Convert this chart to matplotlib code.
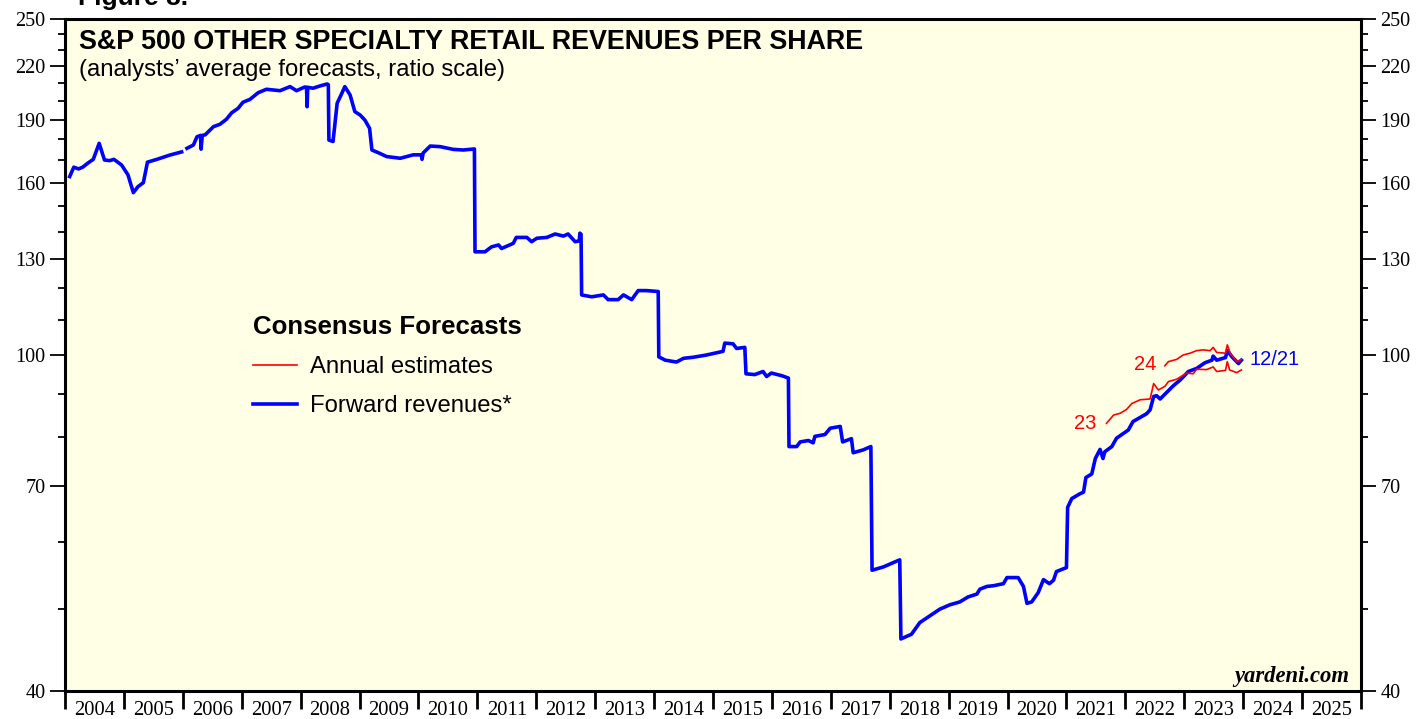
import numpy as np
import matplotlib
matplotlib.use("Agg")
import matplotlib.pyplot as plt
from matplotlib.ticker import FixedLocator, NullFormatter, FixedFormatter
from matplotlib.lines import Line2D

# ---------------- data ----------------
fwd_years = [
    2004.08, 2004.15, 2004.23, 2004.30, 2004.40, 2004.48, 2004.58, 2004.67, 2004.76, 2004.83,
    2004.96, 2005.07, 2005.16, 2005.24, 2005.33, 2005.40, 2005.56, 2005.78, 2005.98, 2006.02,
    2006.07, 2006.18, 2006.24, 2006.30, 2006.31, 2006.33, 2006.38, 2006.52, 2006.63, 2006.74,
    2006.83, 2006.94, 2007.02, 2007.14, 2007.28, 2007.42, 2007.65, 2007.82, 2007.93, 2008.07,
    2008.10, 2008.11, 2008.12, 2008.21, 2008.33, 2008.45, 2008.47, 2008.48, 2008.55, 2008.62,
    2008.70, 2008.75, 2008.84, 2008.92, 2009.01, 2009.09, 2009.17, 2009.21, 2009.32, 2009.46,
    2009.69, 2009.91, 2010.05, 2010.06, 2010.08, 2010.20, 2010.37, 2010.59, 2010.76, 2010.95,
    2010.96, 2011.13, 2011.24, 2011.36, 2011.41, 2011.61, 2011.66, 2011.84, 2011.92, 2012.01,
    2012.18, 2012.32, 2012.46, 2012.54, 2012.66, 2012.73, 2012.74, 2012.76, 2012.77, 2012.94,
    2013.14, 2013.22, 2013.39, 2013.48, 2013.62, 2013.73, 2013.87, 2014.07, 2014.08, 2014.19,
    2014.38, 2014.50, 2014.67, 2014.89, 2015.06, 2015.17, 2015.20, 2015.34, 2015.40, 2015.54,
    2015.56, 2015.71, 2015.85, 2015.91, 2015.99, 2016.17, 2016.28, 2016.29, 2016.42, 2016.48,
    2016.62, 2016.70, 2016.73, 2016.90, 2016.99, 2017.16, 2017.20, 2017.35, 2017.38, 2017.55,
    2017.68, 2017.70, 2017.89, 2018.17, 2018.19, 2018.37, 2018.51, 2018.68, 2018.85, 2019.02,
    2019.19, 2019.33, 2019.48, 2019.53, 2019.65, 2019.76, 2019.93, 2019.99, 2020.18, 2020.27,
    2020.33, 2020.41, 2020.52, 2020.61, 2020.71, 2020.78, 2020.83, 2021.00, 2021.02, 2021.09,
    2021.23, 2021.29, 2021.33, 2021.43, 2021.49, 2021.57, 2021.62, 2021.65, 2021.77, 2021.85,
    2022.05, 2022.13, 2022.36, 2022.42, 2022.48, 2022.53, 2022.59, 2022.70, 2022.81, 2022.93,
    2023.07, 2023.21, 2023.35, 2023.47, 2023.49, 2023.55, 2023.70, 2023.73, 2023.81, 2023.92,
    2023.97,
]
fwd_values = [
    162.7, 166.9, 166.1, 166.9, 169.0, 170.5, 178.1, 170.2, 169.9, 170.5,
    167.9, 163.4, 155.7, 158.3, 160.0, 169.2, 170.5, 172.5, 174.0, np.nan,
    175.7, 177.3, 181.3, 182.0, 175.3, 182.0, 182.3, 186.4, 187.6, 190.2,
    193.6, 196.0, 199.2, 200.8, 204.5, 206.4, 205.6, 207.9, 205.6, 207.7,
    207.5, 196.8, 207.5, 207.0, 208.3, 209.4, 209.0, 179.7, 179.0, 198.7,
    204.2, 207.9, 203.2, 194.2, 192.4, 189.8, 185.6, 174.9, 173.6, 171.8,
    171.0, 172.6, 172.6, 170.5, 173.5, 176.8, 176.5, 175.2, 174.9, 175.4,
    132.5, 132.5, 134.3, 135.0, 133.7, 135.6, 137.8, 137.8, 136.2, 137.5,
    137.8, 139.1, 138.3, 139.1, 136.2, 136.5, 139.4, 139.0, 117.8, 117.2,
    117.8, 116.3, 116.3, 117.8, 116.3, 119.2, 119.2, 118.9, 99.5, 98.6,
    98.1, 99.1, 99.4, 100.0, 100.6, 101.0, 103.3, 103.1, 101.8, 102.1,
    95.0, 94.8, 95.6, 94.3, 95.2, 94.5, 93.9, 77.9, 77.9, 78.9,
    79.2, 78.7, 80.1, 80.5, 81.9, 82.3, 78.9, 79.6, 76.6, 77.2,
    77.9, 55.6, 56.1, 57.2, 46.1, 46.7, 48.2, 49.1, 50.0, 50.6,
    51.0, 51.7, 52.1, 52.8, 53.2, 53.3, 53.6, 54.5, 54.5, 53.2,
    50.8, 51.0, 52.3, 54.2, 53.6, 54.1, 55.4, 56.0, 66.0, 67.6,
    68.5, 68.8, 71.6, 72.3, 75.4, 77.3, 75.4, 76.8, 77.9, 79.7,
    81.5, 83.4, 85.2, 86.1, 89.3, 89.5, 88.7, 90.3, 91.9, 93.4,
    95.6, 96.4, 97.9, 98.6, 99.7, 98.6, 99.3, 101.2, 99.5, 97.7,
    98.6,
]

est23_years = [2021.68, 2021.80, 2021.91, 2022.02, 2022.11, 2022.25, 2022.42, 2022.48, 2022.56,
               2022.67, 2022.73, 2022.87, 2023.04, 2023.15, 2023.21, 2023.38, 2023.49, 2023.55,
               2023.70, 2023.73, 2023.77, 2023.89, 2023.97]
est23_values = [83.0, 84.9, 85.3, 86.2, 87.6, 88.5, 88.7, 92.5, 90.9,
                91.8, 93.0, 93.6, 95.2, 95.0, 96.2, 96.1, 96.8, 95.6,
                95.9, 98.2, 96.0, 95.3, 96.0]

est24_years = [2022.67, 2022.73, 2022.87, 2022.98, 2023.10, 2023.21, 2023.32, 2023.44, 2023.49,
               2023.55, 2023.70, 2023.73, 2023.78, 2023.89, 2023.97]
est24_values = [97.1, 98.2, 98.8, 100.0, 100.5, 101.2, 101.4, 101.2, 102.1,
                100.7, 100.5, 102.8, 100.5, 98.2, 98.8]

y_major = [40, 70, 100, 130, 160, 190, 220, 250]
y_minor = [50, 60, 80, 90, 110, 120, 140, 150, 170, 180, 200, 210, 230, 240]
year_labels = [str(y) for y in range(2004, 2026)]

# ---------------- figure ----------------
SANS = ["Liberation Sans", "DejaVu Sans"]
SERIF = ["Liberation Serif", "DejaVu Serif"]

fig = plt.figure(figsize=(14.2, 7.19), dpi=100)
ax = fig.add_axes([65 / 1420, 1 - 691 / 719, (1361 - 65) / 1420, (691 - 19) / 719])
ax.set_facecolor("#FFFFE6")

ax.plot(fwd_years, fwd_values, color="#0000FF", lw=2.6, solid_joinstyle="round")
ax.plot(est23_years, est23_values, color="#FF0000", lw=1.2)
ax.plot(est24_years, est24_values, color="#FF0000", lw=1.2)

ax.set_yscale("log")
ax.set_ylim(40, 250)
ax.set_xlim(2004, 2026)

ax.yaxis.set_major_locator(FixedLocator(y_major))
ax.yaxis.set_major_formatter(FixedFormatter([str(v) for v in y_major]))
ax.yaxis.set_minor_locator(FixedLocator(y_minor))
ax.yaxis.set_minor_formatter(NullFormatter())

ax.xaxis.set_major_locator(FixedLocator(list(range(2004, 2027))))
ax.xaxis.set_major_formatter(NullFormatter())
ax.xaxis.set_minor_locator(FixedLocator([y + 0.5 for y in range(2004, 2026)]))
ax.xaxis.set_minor_formatter(FixedFormatter(year_labels))

for s in ax.spines.values():
    s.set_linewidth(2.2)

ax.tick_params(axis="y", which="major", direction="out", length=11, width=1.3,
               left=True, right=True, labelleft=True, labelright=True, pad=3,
               labelsize=14.5)
ax.tick_params(axis="y", which="minor", direction="out", length=5, width=1.3,
               left=True, right=True)
ax.tick_params(axis="x", which="major", direction="out", length=13, width=2.0,
               bottom=True, top=False)
ax.tick_params(axis="x", which="minor", length=0, pad=7, labelsize=14.8)
for lab in ax.get_yticklabels() + ax.get_xticklabels(minor=True):
    lab.set_family(SERIF)

# titles
ax.text(0.011, 0.966, "S&P 500 OTHER SPECIALTY RETAIL REVENUES PER SHARE",
        transform=ax.transAxes, fontsize=19.4, fontweight="bold", family=SANS,
        va="center", ha="left")
ax.text(0.011, 0.924, "(analysts\u2019 average forecasts, ratio scale)",
        transform=ax.transAxes, fontsize=17.2, family=SANS, va="center", ha="left")
fig.text(78 / 1420, 1 - 5 / 719, "Figure 8.", fontsize=19, fontweight="bold",
         family=SANS, va="baseline", ha="left")

# legend
ax.text((253 - 65) / 1296, (691 - 327) / 672, "Consensus Forecasts", transform=ax.transAxes,
        fontsize=18.6, fontweight="bold", family=SANS, va="center", ha="left")
leg_lines = [Line2D([0], [0], color="#FF0000", lw=1.2),
             Line2D([0], [0], color="#0000FF", lw=2.6)]
leg = ax.legend(leg_lines, ["Annual estimates", "Forward revenues*"],
                loc="upper left", bbox_to_anchor=((253 - 65) / 1296, (691 - 356) / 672),
                frameon=False, borderpad=0, borderaxespad=0,
                prop={"family": SANS, "size": 17.2}, handlelength=1.85,
                handletextpad=0.55, labelspacing=0.72)

# series labels
ax.text(2021.50, 82.9, "23", color="#FF0000", fontsize=14.5, family=SANS, va="center", ha="right")
ax.text(2022.52, 97.5, "24", color="#FF0000", fontsize=14.5, family=SANS, va="center", ha="right")
ax.text(2024.10, 98.9, "12/21", color="#0000FF", fontsize=14.5, family=SANS, va="center", ha="left")

# credit
ax.text(0.991, 0.022, "yardeni.com", transform=ax.transAxes, fontsize=16.3,
        fontweight="bold", fontstyle="italic", family=SERIF, va="center", ha="right")

fig.savefig("out.png", dpi=100, facecolor="white")
